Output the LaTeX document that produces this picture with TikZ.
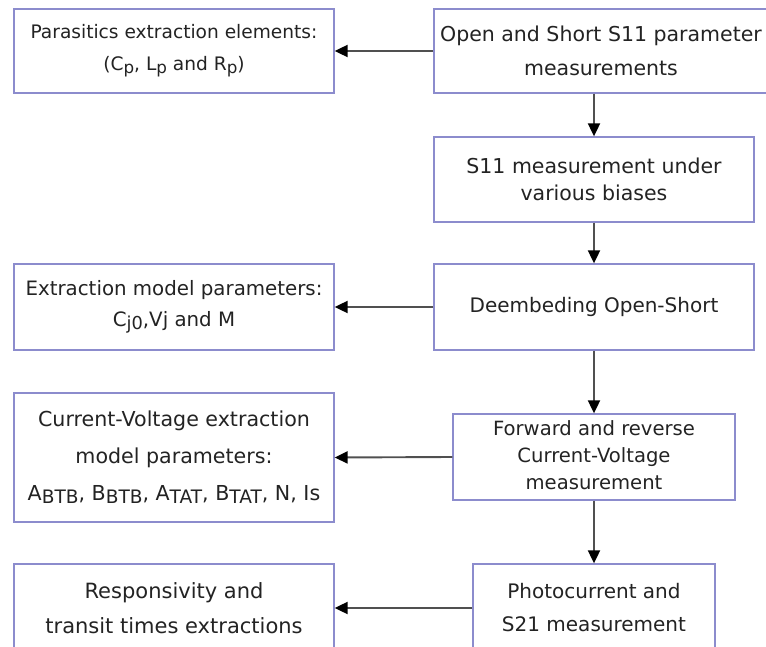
\documentclass[tikz,border=0pt]{standalone}
\usepackage{fontspec}
\setmainfont{DejaVu Sans}
\usetikzlibrary{arrows.meta}
\definecolor{boxblue}{RGB}{140,140,205}
\definecolor{txtgray}{RGB}{35,35,35}
\definecolor{linegray}{RGB}{80,80,80}
\newcommand{\sbs}[2][0.82]{\raisebox{-0.28ex}{\scalebox{#1}{#2}}}
\begin{document}
\begin{tikzpicture}[x=1pt,y=-1pt,
  flowbox/.style={draw=boxblue, line width=1.3pt, fill=white, text=txtgray,
    align=center, inner sep=0pt, minimum width=320pt},
  arr/.style={line width=1.9pt, draw=linegray,
    -{Triangle[length=13pt,width=12pt,color=black]}},
  fs/.style 2 args={font=\fontsize{#1}{#2}\selectfont}]
\useasboundingbox (0,0) rectangle (766,647);
\clip (0,0) rectangle (766,647);
\node[flowbox, fs={20.5}{34}, minimum width=334pt, minimum height=84pt] (A) at (601,51) {Open and Short S11 parameter\\measurements};
\node[flowbox, fs={20.5}{27}, minimum height=85pt] (B) at (594,179.5) {S11 measurement under\\various biases};
\node[flowbox, fs={20}{27}, minimum height=86pt] (C) at (594,307) {Deembeding Open-Short};
\node[flowbox, fs={19.6}{27}, minimum width=282pt, minimum height=86pt] (D) at (594,457) {\raisebox{5pt}{\begin{tabular}{@{}c@{}}Forward and reverse\\Current-Voltage\\measurement\end{tabular}}};
\node[flowbox, fs={20}{33}, minimum width=242pt, minimum height=88pt] (E) at (594,608) {Photocurrent and\\S21 measurement};
\node[flowbox, fs={18.6}{32}, minimum height=84pt] (L1) at (174,51) {Parasitics extraction elements:\\(C\sbs[0.9]{p}, L\sbs[0.9]{p} and R\sbs[0.9]{p})};
\node[flowbox, fs={19.8}{31}, minimum height=86pt] (L2) at (174,307) {Extraction model parameters:\\C\sbs[0.9]{j0},Vj and M};
\node[flowbox, fs={20.6}{37}, minimum height=129pt] (L3) at (174,457.5) {Current-Voltage extraction\\model parameters:\\{\fontsize{20.6}{20.6}\selectfont A\sbs[0.9]{BTB}, B\sbs[0.9]{BTB}, A\sbs[0.9]{TAT}, B\sbs[0.9]{TAT}, N, Is}};
\node[flowbox, fs={21}{35}, minimum height=88pt] (L4) at (174,608) {Responsivity and\\transit times extractions};
\draw[arr] (A.west) -- (L1.east);
\draw[arr] (C.west) -- (L2.east);
\draw[arr] (D.west) -- (L3.east);
\draw[arr] (E.west) -- (L4.east);
\draw[arr] (A.south -| B.north) -- (B.north);
\draw[arr] (B.south) -- (C.north);
\draw[arr] (C.south) -- (D.north);
\draw[arr] (D.south) -- (E.north);
\end{tikzpicture}
\end{document}
